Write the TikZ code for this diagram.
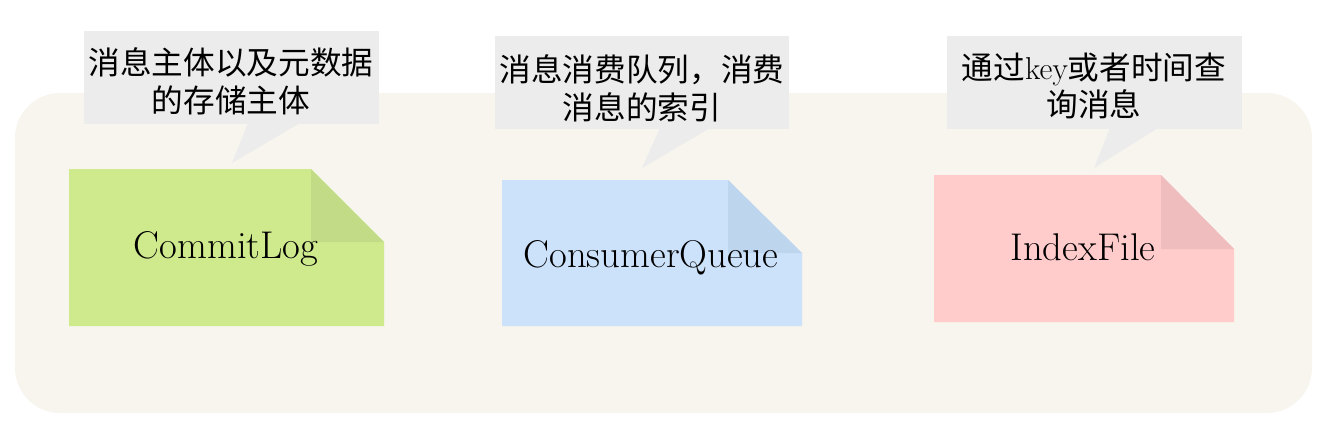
\documentclass[tikz,border=0pt]{standalone}
\usepackage{fontspec}
\newfontfamily\cjk{Noto Sans CJK SC}
\definecolor{bgcream}{HTML}{F7F5EE}
\definecolor{notegray}{HTML}{ECECEC}
\definecolor{loggreen}{HTML}{CFE98D}
\definecolor{loggreenfold}{HTML}{C2DB86}
\definecolor{queueblue}{HTML}{CCE2FB}
\definecolor{queuebluefold}{HTML}{BED5EE}
\definecolor{indexpink}{HTML}{FFCBCB}
\definecolor{indexpinkfold}{HTML}{EFBDBD}
\tikzset{
  notetext/.style={align=center, font=\cjk\fontsize{18}{21.5}\selectfont},
  filetext/.style={anchor=base, font=\fontsize{22}{26}\selectfont}
}
\begin{document}
\begin{tikzpicture}[x=0.02cm, y=-0.02cm]
    \useasboundingbox (0,0) rectangle (1326,423);
    \fill[bgcream, rounded corners=0.9cm] (15,93) rectangle (1312,413);
    % callouts
    \fill[notegray] (84,31) rectangle (379,124);
    \fill[notegray] (248,123) -- (232,163) -- (300,123) -- cycle;
    \fill[notegray] (495,36) rectangle (789,129);
    \fill[notegray] (660,128) -- (642,168) -- (710,128) -- cycle;
    \fill[notegray] (947,36) rectangle (1242,129);
    \fill[notegray] (1110,128) -- (1094,168) -- (1158,128) -- cycle;
    \node[notetext] (noteLog) at (231,81) {消息主体以及元数据\\的存储主体};
    \node[notetext] (noteQueue) at (642,88) {消息消费队列，消费\\消息的索引};
    \node[notetext] (noteIndex) at (1094,86) {通过{\rmfamily key}或者时间查\\询消息};
    % files
    \fill[loggreen] (69,169) -- (311,169) -- (384,242) -- (384,326) -- (69,326) -- cycle;
    \fill[loggreenfold] (311,169) -- (384,242) -- (311,242) -- cycle;
    \fill[queueblue] (502,180) -- (728,180) -- (802,253) -- (802,326) -- (502,326) -- cycle;
    \fill[queuebluefold] (728,180) -- (802,253) -- (728,253) -- cycle;
    \fill[indexpink] (934,175) -- (1161,175) -- (1234,249) -- (1234,322) -- (934,322) -- cycle;
    \fill[indexpinkfold] (1161,175) -- (1234,249) -- (1161,249) -- cycle;
    \node[filetext] (commitLog) at (226,258) {CommitLog};
    \node[filetext] (consumerQueue) at (651,267) {ConsumerQueue};
    \node[filetext] (indexFile) at (1083,260) {IndexFile};
\end{tikzpicture}
\end{document}
